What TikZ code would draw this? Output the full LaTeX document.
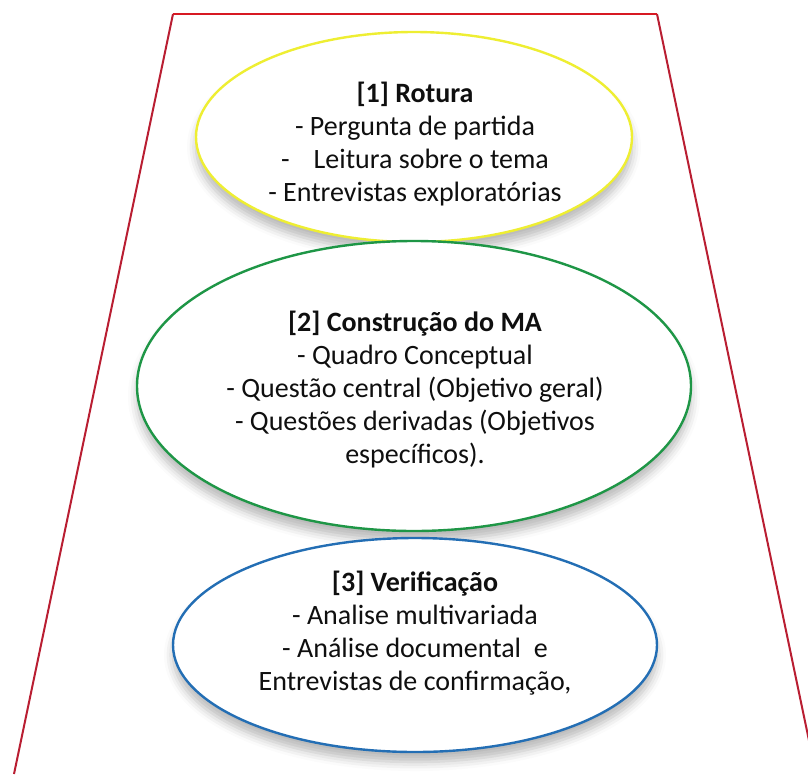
\documentclass[tikz,border=0pt]{standalone}
\usepackage{fontspec}
\setmainfont{Carlito}
\usetikzlibrary{shapes.geometric,shadows.blur}
\definecolor{redtop}{RGB}{215,25,35}
\definecolor{redside}{RGB}{185,30,50}
\definecolor{ylw}{RGB}{238,238,50}
\definecolor{grn}{RGB}{30,150,70}
\definecolor{blu}{RGB}{35,110,180}
\definecolor{txtc}{RGB}{15,15,15}
\tikzset{
  ellbox/.style={ellipse, draw=#1, line width=2.4pt, fill=white, inner sep=0pt,
    blur shadow={shadow xshift=0pt, shadow yshift=-10pt, shadow blur radius=9pt, shadow opacity=28}},
  txtbox/.style={align=center, text=txtc, inner sep=0pt,
    font=\fontsize{28pt}{33pt}\selectfont},
  redline/.style={line width=2pt, line join=miter}
}
\begin{document}
\begin{tikzpicture}[x=1pt,y=-1pt]
\useasboundingbox (0,0) rectangle (808,774);
\clip (0,0) rectangle (808,774);
\coordinate (bl) at (14,774);
\coordinate (tl) at (173,14);
\coordinate (tr) at (657,14);
\coordinate (br) at (816,774);
\draw[redline, redside] (bl) -- (tl);
\draw[redline, redside] (tr) -- (br);
\draw[redline, redtop] (tl) -- (tr);
\node[ellbox=ylw, minimum width=436pt, minimum height=210pt] (e1) at (414,137) {};
\node[ellbox=grn, minimum width=554pt, minimum height=290pt] (e2) at (414,386) {};
\node[ellbox=blu, minimum width=484pt, minimum height=214pt] (e3) at (415,645) {};
\node[txtbox] (t1) at (415,144) {\textbf{[1] Rotura}\\- Pergunta de partida\\-\hspace{24pt}Leitura sobre o tema\\- Entrevistas exploratórias};
\node[txtbox] (t2) at (415,390) {\textbf{[2] Construção do MA}\\- Quadro Conceptual\\- Questão central (Objetivo geral)\\- Questões derivadas (Objetivos\\específicos).};
\node[txtbox] (t3) at (415,633) {\textbf{[3] Verificação}\\- Analise multivariada\\- Análise documental\ \ e\\Entrevistas de confirmação,};
\end{tikzpicture}
\end{document}
